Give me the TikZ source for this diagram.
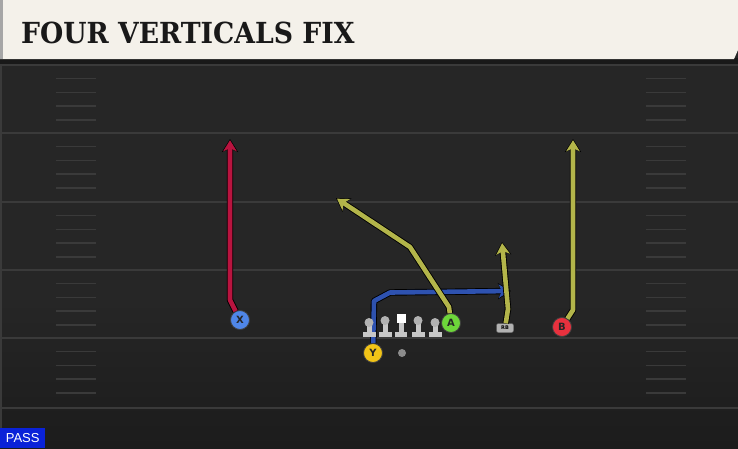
\documentclass[tikz,border=0pt]{standalone}
\usepackage{fontspec}
\setmainfont{DejaVu Sans}
\newfontfamily\titlefont{DejaVu Serif}
\newfontfamily\tagfont{Liberation Sans}
\usetikzlibrary{arrows.meta}

\definecolor{fieldgray}{HTML}{262626}
\definecolor{fielddark}{HTML}{1C1C1C}
\definecolor{linegray}{HTML}{3A3A3A}
\definecolor{headcream}{HTML}{F4F1EA}
\definecolor{routered}{HTML}{B8143F}
\definecolor{routeblue}{HTML}{2E52B0}
\definecolor{routeyellow}{HTML}{B3B54A}
\definecolor{playerblue}{HTML}{4F86E8}
\definecolor{playeryellow}{HTML}{F2C417}
\definecolor{playergreen}{HTML}{6DD63A}
\definecolor{playerred}{HTML}{E8313E}
\definecolor{passblue}{HTML}{0A22D8}

\tikzset{
    player/.style={circle, draw=black!75, line width=0.8pt, minimum size=19pt, inner sep=0pt,
        font=\bfseries\fontsize{10}{10}\selectfont, text=black!85},
    routeedge/.style={draw=black, line width=6.4pt, line join=round,
        -{Stealth[length=13pt,width=16pt,inset=3.5pt]}},
    route/.style={line width=4.6pt, line join=round,
        -{Stealth[length=11pt,width=13.5pt,inset=3pt]}, shorten >=1.2pt},
}
\newcommand{\playroute}[2]{\draw[routeedge] #2; \draw[route,#1] #2;}

\begin{document}
\begin{tikzpicture}[x=1pt, y=-1pt]
        \useasboundingbox (0,0) rectangle (738,448);
        \fill[fieldgray] (0,0) rectangle (738,448);
        \shade[top color=fieldgray, bottom color=fielddark] (0,300) rectangle (738,448);
        \fill[linegray] (0,60) rectangle (2,448);

        \foreach \y in {65,133,202,270,338,408}
            \draw[linegray, line width=2pt] (0,\y) -- (738,\y);

        \foreach \y in {65,133,202,270,338}
            \foreach \k in {1,...,4}
            {
                \draw[linegray, line width=1.5pt] (56,\y+\k*13.7) -- (96,\y+\k*13.7);
                \draw[linegray, line width=1.5pt] (646,\y+\k*13.7) -- (686,\y+\k*13.7);
            }

        \fill[black!90] (0,58) rectangle (738,64);
        \fill[headcream] (0,0) -- (738,0) -- (738,50) -- (734,59) -- (0,59) -- cycle;
        \fill[black!35] (0,0) rectangle (2.5,59);
        \node[anchor=base west, inner sep=0pt, text=black!90] (title) at (21,43)
            {\titlefont\bfseries\fontsize{29}{29}\selectfont\scalebox{0.92}[1]{FOUR VERTICALS FIX}};

        \node[player, fill=playerblue] (X) at (240,320) {X};
        \node[player, fill=playeryellow] (Y) at (373,353) {Y};
        \node[player, fill=playergreen] (A) at (451,323) {A};
        \node[player, fill=playerred] (B) at (562,327) {B};
        \node[rectangle, rounded corners=2pt, fill=black!30, draw=black!60, minimum width=17pt,
            minimum height=9pt, inner sep=0pt, font=\bfseries\fontsize{5}{5}\selectfont] (RB) at (505,328) {RB};
        \node[circle, fill=black!45, minimum size=8pt, inner sep=0pt] (ball) at (402,353) {};

        \coordinate (Xend) at (230,139);
        \coordinate (Yend) at (511,291);
        \coordinate (Aend) at (336,198);
        \coordinate (RBend) at (502,242);
        \coordinate (Bend) at (573,139);

        \playroute{routered}{(X) -- (230,300) -- (Xend)}
        \playroute{routeblue}{(Y) -- (374,301) -- (390,292.5) -- (Yend)}
        \playroute{routeyellow}{(A) -- (449,307) -- (410,247) -- (Aend)}
        \playroute{routeyellow}{(RB) -- (508,309) -- (RBend)}
        \playroute{routeyellow}{(B) -- (573,310) -- (Bend)}

        \foreach \x/\h in {369/322.5, 385/320.5, 418/320.5, 435/322.5}
        {
            \fill[black!22] (\x-2.5,\h) rectangle (\x+2.5,333);
            \fill[black!22] (\x-6.5,332) rectangle (\x+6.5,336.5);
            \fill[black!30] (\x,\h) circle (4.5);
        }
        \fill[black!22] (398.5,323) rectangle (403.5,333);
        \fill[black!22] (395,332) rectangle (407,336.5);
        \fill[white] (397,314) rectangle (405.5,323);

        \node[fill=passblue, text=white, anchor=south west, minimum width=45pt, minimum height=20pt,
            inner sep=0pt, font=\tagfont\fontsize{13}{13}\selectfont] (pass) at (0,448) {PASS};
    \end{tikzpicture}
\end{document}
